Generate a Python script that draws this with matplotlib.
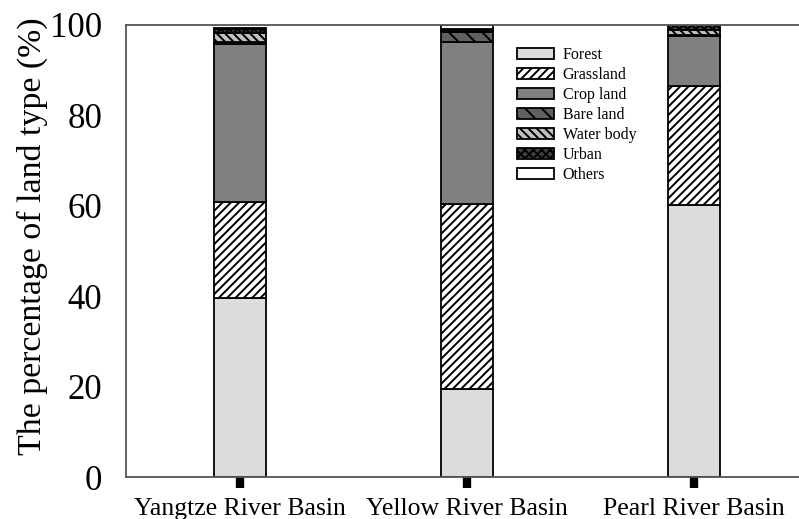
import numpy as np
import matplotlib
matplotlib.use("Agg")
import matplotlib.pyplot as plt

# Share of each land type per basin (%)
basins = ["Yangtze River Basin", "Yellow River Basin", "Pearl River Basin"]
land_types = ["Forest", "Grassland", "Crop land", "Bare land", "Water body", "Urban", "Others"]
forest = [39.6, 19.5, 60.2]
grassland = [21.2, 40.8, 26.2]
cropland = [35.1, 35.9, 11.2]
bare_land = [0.3, 2.3, 0.1]
water_body = [2.1, 0.2, 1.2]
urban = [0.9, 0.5, 1.0]
others = [0.1, 0.7, 0.1]
y_ticks = [0, 20, 40, 60, 80, 100]

plt.rcParams["font.family"] = ["Liberation Serif", "DejaVu Serif"]
plt.rcParams["hatch.linewidth"] = 1.4
plt.rcParams["hatch.color"] = "black"

fig = plt.figure(figsize=(7.99, 5.19), dpi=100)
ax = fig.add_axes([126 / 799, 42 / 519, 1 - 126 / 799, 452 / 519])

styles = [
    ("#dcdcdc", ""),
    ("white", "////"),
    ("#808080", ""),
    ("#606060", "\\\\"),
    ("#c0c0c0", "\\\\\\\\"),
    ("#404040", "xxxx"),
    ("white", ""),
]
series = [forest, grassland, cropland, bare_land, water_body, urban, others]

x = np.arange(len(basins))
bottom = np.zeros(len(basins))
for label, values, (color, hatch) in zip(land_types, series, styles):
    ax.bar(x, values, width=0.23, bottom=bottom, color=color, hatch=hatch,
           edgecolor="black", linewidth=1.3, label=label, zorder=2)
    bottom += np.array(values)

ax.set_xlim(-0.502, 2.463)
ax.set_ylim(0, 100)
ax.set_yticks(y_ticks)
ax.set_xticks(x)
ax.set_xticklabels(basins, fontsize=18.5)
ax.tick_params(axis="y", labelsize=25, direction="in", length=3, width=1.5,
               color="white", pad=17)
ax.tick_params(axis="x", direction="out", length=8, width=6, color="black", pad=7)

for side in ["top", "left", "bottom"]:
    ax.spines[side].set_color("#555555")
    ax.spines[side].set_linewidth(1.3)
ax.spines["right"].set_visible(False)

fig.text(32 / 799, 1 - 236 / 519, "The percentage of land type (%)",
         rotation=90, ha="center", va="center", fontsize=24.4)

ax.legend(loc="upper left", bbox_to_anchor=(517 / 799, 1 - 47 / 519),
          bbox_transform=fig.transFigure, frameon=False, fontsize=11.5,
          handlelength=2.3, handleheight=0.75, handletextpad=0.55,
          labelspacing=0.25, borderpad=0, borderaxespad=0)

fig.savefig("out.png", dpi=100)
